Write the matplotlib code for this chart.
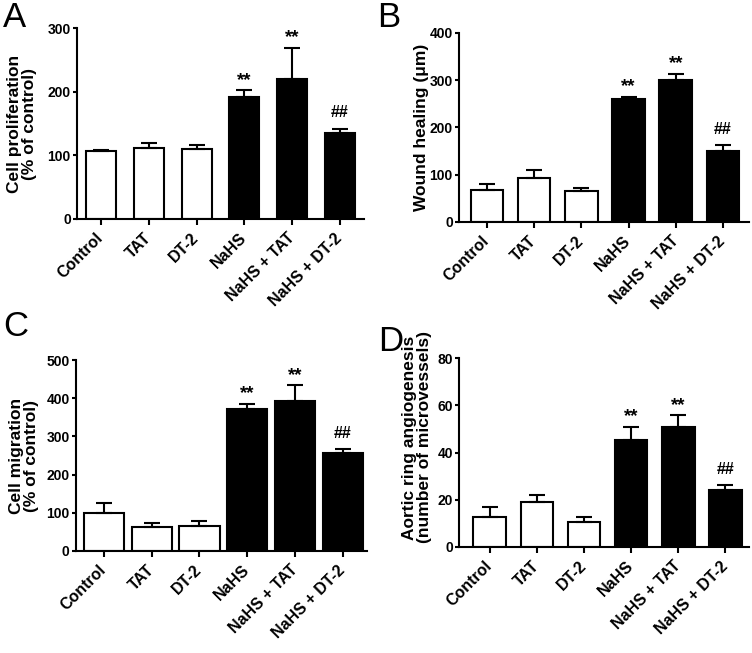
import matplotlib
matplotlib.use("Agg")
import matplotlib.pyplot as plt
from matplotlib.transforms import ScaledTranslation
import numpy as np

plt.rcParams['font.family'] = ['Liberation Sans', 'DejaVu Sans']

categories = ["Control", "TAT", "DT-2", "NaHS", "NaHS + TAT", "NaHS + DT-2"]

prolif_mean = [107, 112, 110, 192, 220, 135]
prolif_err = [1, 7, 6, 10, 49, 7]

wound_mean = [68, 94, 65, 260, 300, 150]
wound_err = [12, 17, 7, 5, 13, 12]

migr_mean = [100, 62, 65, 371, 392, 257]
migr_err = [26, 11, 14, 14, 42, 9]

aortic_mean = [12.8, 19.2, 10.7, 45.2, 51.0, 24.0]
aortic_err = [4.2, 2.8, 2.1, 5.6, 4.8, 2.2]

marks = ["", "", "", "**", "**", "##"]

fig = plt.figure(figsize=(7.52, 6.53), dpi=100)
W, H = 752, 653

def px_axes(l, r, t, b):
    return fig.add_axes([l / W, 1 - b / H, (r - l) / W, (b - t) / H])

panels = [
    dict(box=(77, 364, 28, 219), mean=prolif_mean, err=prolif_err, ymax=300, step=100,
         width=0.63, xlim=(-0.5, 5.5), ylabel="Cell proliferation\n(% of control)",
         lab=(-0.192, 0.5), letter="A", lpos=(3, 27)),
    dict(box=(459, 749, 33, 222), mean=wound_mean, err=wound_err, ymax=400, step=100,
         width=0.69, xlim=(-0.59, 5.55), ylabel="Wound healing (\u03bcm)",
         lab=(-0.13, 0.5), letter="B", lpos=(377, 27)),
    dict(box=(76, 367, 360, 551), mean=migr_mean, err=migr_err, ymax=500, step=100,
         width=0.84, xlim=(-0.58, 5.5), ylabel="Cell migration\n(% of control)",
         lab=(-0.179, 0.5), letter="C", lpos=(3, 336)),
    dict(box=(459, 749, 358, 547), mean=aortic_mean, err=aortic_err, ymax=80, step=20,
         width=0.69, xlim=(-0.65, 5.5), ylabel="Aortic ring angiogenesis\n(number of microvessels)",
         lab=(-0.145, 0.58), letter="D", lpos=(378, 351)),
]

shift = ScaledTranslation(3 / 100, 0, fig.dpi_scale_trans)

for p in panels:
    ax = px_axes(*p["box"])
    x = np.arange(len(categories))
    colors = ["white"] * 3 + ["black"] * 3
    mean = np.array(p["mean"], dtype=float)
    err = np.array(p["err"], dtype=float)
    ax.bar(x, mean, width=p["width"], color=colors, edgecolor="black", linewidth=1.5, zorder=2)
    ax.errorbar(x, mean, yerr=[np.zeros_like(err), err], fmt="none", ecolor="black",
                elinewidth=1.5, capsize=5.8, capthick=1.5, zorder=3)
    ax.set_xlim(*p["xlim"])
    ax.set_ylim(0, p["ymax"])
    ax.set_yticks(np.arange(0, p["ymax"] + 1, p["step"]))
    ax.set_xticks(x)
    ax.set_xticklabels(categories, rotation=45, ha="right", va="center",
                       rotation_mode="anchor", fontsize=11.5, fontweight="bold")
    for lbl in ax.get_xticklabels():
        lbl.set_transform(lbl.get_transform() + shift)
    for lbl in ax.get_yticklabels():
        lbl.set_fontweight("bold")
        lbl.set_fontsize(10)
    for s in ["top", "right"]:
        ax.spines[s].set_visible(False)
    for s in ["left", "bottom"]:
        ax.spines[s].set_linewidth(1.5)
    ax.tick_params(axis="y", length=3, width=1.5, pad=1.5)
    ax.tick_params(axis="x", length=4, width=1.5, pad=8)
    ax.patch.set_alpha(0)
    ax.text(p["lab"][0], p["lab"][1], p["ylabel"], transform=ax.transAxes, rotation=90,
            ha="center", va="center", fontsize=12.5, fontweight="bold", linespacing=1.05,
            multialignment="center")
    for xi, m, e, mk in zip(x, mean, err, marks):
        if not mk:
            continue
        if mk == "**":
            ax.annotate(mk, (xi, m + e), xytext=(0, 4), textcoords="offset points",
                        ha="center", va="baseline", fontsize=13.5, fontweight="bold")
        else:
            ax.annotate(mk, (xi, m + e), xytext=(0, 8), textcoords="offset points",
                        ha="center", va="baseline", fontsize=11.5, fontweight="bold")
    fig.text(p["lpos"][0] / W, 1 - p["lpos"][1] / H, p["letter"], fontsize=25,
             ha="left", va="baseline")

fig.savefig("out.png", dpi=100)
